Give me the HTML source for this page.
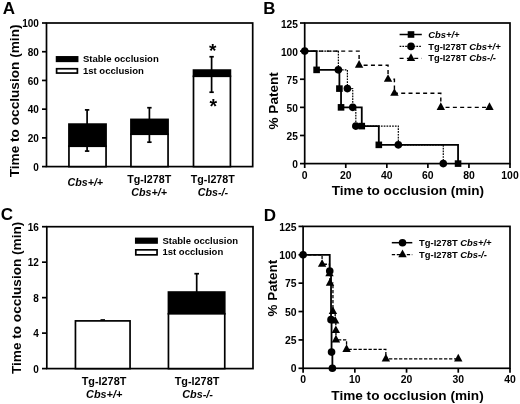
<!DOCTYPE html>
<html><head><meta charset="utf-8"><style>
html,body{margin:0;padding:0;background:#fff;}
body{width:520px;height:404px;overflow:hidden;}
svg{display:block;will-change:transform;}
text{font-family:"Liberation Sans", sans-serif;font-weight:bold;fill:#000;}
</style></head><body>
<svg width="520" height="404" viewBox="0 0 520 404">
<rect width="520" height="404" fill="#fff"/>
<text x="2.70" y="13.80" font-size="17" text-anchor="start">A</text>
<rect x="46.5" y="23" width="206.2" height="143.6" fill="none" stroke="#000" stroke-width="1.7"/>
<line x1="42.00" y1="166.60" x2="46.50" y2="166.60" stroke="#000" stroke-width="1.7"/>
<text x="38.90" y="170.70" font-size="10" text-anchor="end">0</text>
<line x1="42.00" y1="137.88" x2="46.50" y2="137.88" stroke="#000" stroke-width="1.7"/>
<text x="38.90" y="141.98" font-size="10" text-anchor="end">20</text>
<line x1="42.00" y1="109.16" x2="46.50" y2="109.16" stroke="#000" stroke-width="1.7"/>
<text x="38.90" y="113.26" font-size="10" text-anchor="end">40</text>
<line x1="42.00" y1="80.44" x2="46.50" y2="80.44" stroke="#000" stroke-width="1.7"/>
<text x="38.90" y="84.54" font-size="10" text-anchor="end">60</text>
<line x1="42.00" y1="51.72" x2="46.50" y2="51.72" stroke="#000" stroke-width="1.7"/>
<text x="38.90" y="55.82" font-size="10" text-anchor="end">80</text>
<line x1="42.00" y1="23.00" x2="46.50" y2="23.00" stroke="#000" stroke-width="1.7"/>
<text x="38.90" y="27.10" font-size="10" text-anchor="end">100</text>
<text x="18.60" y="177.30" font-size="13.65" text-anchor="start" transform="rotate(-90 18.60 177.30)">Time to occlusion (min)</text>
<rect x="68.95" y="124.12" width="37.10" height="22.11" fill="#000" stroke="#000" stroke-width="1.7"/>
<rect x="68.95" y="146.24" width="37.10" height="20.36" fill="#fff" stroke="#000" stroke-width="1.7"/>
<line x1="87.10" y1="109.88" x2="87.10" y2="151.09" stroke="#000" stroke-width="1.7"/>
<line x1="84.90" y1="109.88" x2="89.30" y2="109.88" stroke="#000" stroke-width="1.7"/>
<line x1="84.90" y1="151.09" x2="89.30" y2="151.09" stroke="#000" stroke-width="1.7"/>
<rect x="130.95" y="119.41" width="37.10" height="14.82" fill="#000" stroke="#000" stroke-width="1.7"/>
<rect x="130.95" y="134.23" width="37.10" height="32.37" fill="#fff" stroke="#000" stroke-width="1.7"/>
<line x1="149.40" y1="107.72" x2="149.40" y2="142.19" stroke="#000" stroke-width="1.7"/>
<line x1="147.20" y1="107.72" x2="151.60" y2="107.72" stroke="#000" stroke-width="1.7"/>
<line x1="147.20" y1="142.19" x2="151.60" y2="142.19" stroke="#000" stroke-width="1.7"/>
<rect x="193.50" y="70.10" width="36.90" height="6.17" fill="#000" stroke="#000" stroke-width="1.7"/>
<rect x="193.50" y="76.28" width="36.90" height="90.32" fill="#fff" stroke="#000" stroke-width="1.7"/>
<line x1="211.60" y1="56.75" x2="211.60" y2="92.22" stroke="#000" stroke-width="1.7"/>
<line x1="209.40" y1="56.75" x2="213.80" y2="56.75" stroke="#000" stroke-width="1.7"/>
<line x1="209.40" y1="92.22" x2="213.80" y2="92.22" stroke="#000" stroke-width="1.7"/>
<text x="212.60" y="57.40" font-size="19" text-anchor="middle">*</text>
<text x="213.20" y="112.90" font-size="19.5" text-anchor="middle">*</text>
<rect x="56.60" y="56.90" width="21.00" height="4.40" fill="#000" stroke="#000" stroke-width="1.7"/>
<rect x="56.60" y="68.75" width="20.80" height="4.30" fill="#fff" stroke="#000" stroke-width="1.7"/>
<text x="82.90" y="62.40" font-size="9.55" text-anchor="start">Stable occlusion</text>
<text x="82.90" y="73.80" font-size="9.55" text-anchor="start">1st occlusion</text>
<text x="85.30" y="186.40" font-size="10.7" text-anchor="middle" font-style="italic">Cbs+/+</text>
<text x="149.20" y="182.60" font-size="10.7" text-anchor="middle">Tg-I278T</text>
<text x="149.20" y="196.00" font-size="10.7" text-anchor="middle" font-style="italic">Cbs+/+</text>
<text x="212.80" y="182.60" font-size="10.7" text-anchor="middle">Tg-I278T</text>
<text x="213.00" y="196.00" font-size="10.7" text-anchor="middle" font-style="italic">Cbs-/-</text>
<text x="263.20" y="13.70" font-size="16.8" text-anchor="start">B</text>
<rect x="304.7" y="23" width="205.3" height="140.6" fill="none" stroke="#000" stroke-width="1.7"/>
<line x1="300.00" y1="163.60" x2="304.70" y2="163.60" stroke="#000" stroke-width="1.7"/>
<text x="297.90" y="168.10" font-size="10.2" text-anchor="end">0</text>
<line x1="300.00" y1="135.48" x2="304.70" y2="135.48" stroke="#000" stroke-width="1.7"/>
<text x="297.90" y="139.98" font-size="10.2" text-anchor="end">25</text>
<line x1="300.00" y1="107.36" x2="304.70" y2="107.36" stroke="#000" stroke-width="1.7"/>
<text x="297.90" y="111.86" font-size="10.2" text-anchor="end">50</text>
<line x1="300.00" y1="79.24" x2="304.70" y2="79.24" stroke="#000" stroke-width="1.7"/>
<text x="297.90" y="83.74" font-size="10.2" text-anchor="end">75</text>
<line x1="300.00" y1="51.12" x2="304.70" y2="51.12" stroke="#000" stroke-width="1.7"/>
<text x="297.90" y="55.62" font-size="10.2" text-anchor="end">100</text>
<line x1="300.00" y1="23.00" x2="304.70" y2="23.00" stroke="#000" stroke-width="1.7"/>
<text x="297.90" y="27.50" font-size="10.2" text-anchor="end">125</text>
<line x1="304.70" y1="163.60" x2="304.70" y2="168.00" stroke="#000" stroke-width="1.7"/>
<text x="304.70" y="179.30" font-size="10.4" text-anchor="middle">0</text>
<line x1="345.76" y1="163.60" x2="345.76" y2="168.00" stroke="#000" stroke-width="1.7"/>
<text x="345.76" y="179.30" font-size="10.4" text-anchor="middle">20</text>
<line x1="386.82" y1="163.60" x2="386.82" y2="168.00" stroke="#000" stroke-width="1.7"/>
<text x="386.82" y="179.30" font-size="10.4" text-anchor="middle">40</text>
<line x1="427.88" y1="163.60" x2="427.88" y2="168.00" stroke="#000" stroke-width="1.7"/>
<text x="427.88" y="179.30" font-size="10.4" text-anchor="middle">60</text>
<line x1="468.94" y1="163.60" x2="468.94" y2="168.00" stroke="#000" stroke-width="1.7"/>
<text x="468.94" y="179.30" font-size="10.4" text-anchor="middle">80</text>
<line x1="510.00" y1="163.60" x2="510.00" y2="168.00" stroke="#000" stroke-width="1.7"/>
<text x="510.00" y="179.30" font-size="10.4" text-anchor="middle">100</text>
<text x="407.90" y="194.60" font-size="13.6" text-anchor="middle">Time to occlusion (min)</text>
<text x="278.20" y="129.50" font-size="13.6" text-anchor="start" transform="rotate(-90 278.20 129.50)">% Patent</text>
<polyline points="304.70,51.12 338.37,51.12 338.37,69.87 347.40,69.87 347.40,88.61 352.74,88.61 352.74,107.36 355.82,107.36 355.82,126.11 398.32,126.11 398.32,144.85 443.28,144.85 443.28,163.60" fill="none" stroke="#000" stroke-width="1.2" stroke-dasharray="1.7 1.1" stroke-linejoin="miter"/>
<polyline points="304.70,51.12 359.10,51.12 359.10,65.18 388.05,65.18 388.05,79.24 394.42,79.24 394.42,93.30 440.81,93.30 440.81,107.36 489.47,107.36" fill="none" stroke="#000" stroke-width="1.4" stroke-dasharray="4 3.3" stroke-linejoin="miter"/>
<polyline points="304.70,51.12 316.61,51.12 316.61,69.87 339.40,69.87 339.40,88.61 341.04,88.61 341.04,107.36 361.77,107.36 361.77,126.11 378.81,126.11 378.81,144.85 458.06,144.85 458.06,163.60" fill="none" stroke="#000" stroke-width="1.8" stroke-linejoin="miter"/>
<rect x="313.31" y="66.57" width="6.6" height="6.6" fill="#000"/>
<rect x="336.10" y="85.31" width="6.6" height="6.6" fill="#000"/>
<rect x="337.74" y="104.06" width="6.6" height="6.6" fill="#000"/>
<rect x="358.47" y="122.81" width="6.6" height="6.6" fill="#000"/>
<rect x="375.51" y="141.55" width="6.6" height="6.6" fill="#000"/>
<rect x="454.76" y="160.30" width="6.6" height="6.6" fill="#000"/>
<circle cx="304.70" cy="51.12" r="3.8" fill="#000"/>
<circle cx="338.37" cy="69.87" r="3.8" fill="#000"/>
<circle cx="347.40" cy="88.61" r="3.8" fill="#000"/>
<circle cx="352.74" cy="107.36" r="3.8" fill="#000"/>
<circle cx="355.82" cy="126.11" r="3.8" fill="#000"/>
<circle cx="398.32" cy="144.85" r="3.8" fill="#000"/>
<circle cx="443.28" cy="163.60" r="3.8" fill="#000"/>
<polygon points="354.90,67.71 363.30,67.71 359.10,60.11" fill="#000"/>
<polygon points="383.85,81.77 392.25,81.77 388.05,74.17" fill="#000"/>
<polygon points="390.22,95.83 398.62,95.83 394.42,88.23" fill="#000"/>
<polygon points="436.61,109.89 445.01,109.89 440.81,102.29" fill="#000"/>
<polygon points="485.27,109.89 493.67,109.89 489.47,102.29" fill="#000"/>
<line x1="399.60" y1="34.50" x2="421.80" y2="34.50" stroke="#000" stroke-width="1.5"/>
<rect x="407.70" y="31.20" width="6.6" height="6.6" fill="#000"/>
<line x1="399.60" y1="46.40" x2="421.80" y2="46.40" stroke="#000" stroke-width="1.2" stroke-dasharray="1.7 1.1"/>
<circle cx="411.00" cy="46.40" r="3.8" fill="#000"/>
<line x1="399.60" y1="58.40" x2="421.80" y2="58.40" stroke="#000" stroke-width="1.4" stroke-dasharray="4 3.3"/>
<polygon points="406.80,60.93 415.20,60.93 411.00,53.33" fill="#000"/>
<text x="428.20" y="38.00" font-size="9.4" text-anchor="start" font-style="italic"><tspan font-style="italic">Cbs</tspan>+/+</text>
<text x="428.20" y="49.70" font-size="9.4" text-anchor="start">Tg-I278T <tspan font-style="italic">Cbs</tspan><tspan font-style="italic">+/+</tspan></text>
<text x="428.20" y="61.30" font-size="9.4" text-anchor="start">Tg-I278T <tspan font-style="italic">Cbs</tspan><tspan font-style="italic">-/-</tspan></text>
<text x="0.80" y="219.50" font-size="17" text-anchor="start">C</text>
<rect x="46.8" y="226.7" width="206.2" height="141.90000000000003" fill="none" stroke="#000" stroke-width="1.7"/>
<line x1="42.00" y1="368.60" x2="46.80" y2="368.60" stroke="#000" stroke-width="1.7"/>
<text x="38.90" y="372.80" font-size="10" text-anchor="end">0</text>
<line x1="42.00" y1="333.12" x2="46.80" y2="333.12" stroke="#000" stroke-width="1.7"/>
<text x="38.90" y="337.32" font-size="10" text-anchor="end">4</text>
<line x1="42.00" y1="297.65" x2="46.80" y2="297.65" stroke="#000" stroke-width="1.7"/>
<text x="38.90" y="301.85" font-size="10" text-anchor="end">8</text>
<line x1="42.00" y1="262.18" x2="46.80" y2="262.18" stroke="#000" stroke-width="1.7"/>
<text x="38.90" y="266.38" font-size="10" text-anchor="end">12</text>
<line x1="42.00" y1="226.70" x2="46.80" y2="226.70" stroke="#000" stroke-width="1.7"/>
<text x="38.90" y="230.90" font-size="10" text-anchor="end">16</text>
<text x="21.10" y="374.00" font-size="13.6" text-anchor="start" transform="rotate(-90 21.10 374.00)">Time to occlusion (min)</text>
<rect x="75.45" y="320.89" width="54.60" height="47.71" fill="#fff" stroke="#000" stroke-width="1.7"/>
<line x1="102.75" y1="320.89" x2="102.75" y2="320.00" stroke="#000" stroke-width="1.7"/>
<line x1="100.50" y1="320.00" x2="105.00" y2="320.00" stroke="#000" stroke-width="1.7"/>
<rect x="168.45" y="292.06" width="56.30" height="21.73" fill="#000" stroke="#000" stroke-width="1.7"/>
<rect x="168.45" y="313.79" width="56.30" height="54.81" fill="#fff" stroke="#000" stroke-width="1.7"/>
<line x1="196.70" y1="292.06" x2="196.70" y2="273.70" stroke="#000" stroke-width="1.7"/>
<line x1="194.40" y1="273.70" x2="199.00" y2="273.70" stroke="#000" stroke-width="1.7"/>
<rect x="135.80" y="238.45" width="21.25" height="4.50" fill="#000" stroke="#000" stroke-width="1.7"/>
<rect x="135.80" y="249.85" width="21.25" height="5.00" fill="#fff" stroke="#000" stroke-width="1.7"/>
<text x="162.50" y="243.50" font-size="9.5" text-anchor="start">Stable occlusion</text>
<text x="162.50" y="255.40" font-size="9.5" text-anchor="start">1st occlusion</text>
<text x="104.00" y="384.60" font-size="10.85" text-anchor="middle">Tg-I278T</text>
<text x="104.20" y="397.90" font-size="10.85" text-anchor="middle" font-style="italic">Cbs+/+</text>
<text x="197.00" y="384.60" font-size="10.85" text-anchor="middle">Tg-I278T</text>
<text x="197.60" y="397.90" font-size="10.85" text-anchor="middle" font-style="italic">Cbs-/-</text>
<text x="263.80" y="220.50" font-size="17" text-anchor="start">D</text>
<rect x="303.1" y="226.4" width="206.89999999999998" height="141.9" fill="none" stroke="#000" stroke-width="1.7"/>
<line x1="298.50" y1="368.30" x2="303.10" y2="368.30" stroke="#000" stroke-width="1.7"/>
<text x="296.60" y="372.40" font-size="10.4" text-anchor="end">0</text>
<line x1="298.50" y1="339.92" x2="303.10" y2="339.92" stroke="#000" stroke-width="1.7"/>
<text x="296.60" y="344.02" font-size="10.4" text-anchor="end">25</text>
<line x1="298.50" y1="311.54" x2="303.10" y2="311.54" stroke="#000" stroke-width="1.7"/>
<text x="296.60" y="315.64" font-size="10.4" text-anchor="end">50</text>
<line x1="298.50" y1="283.16" x2="303.10" y2="283.16" stroke="#000" stroke-width="1.7"/>
<text x="296.60" y="287.26" font-size="10.4" text-anchor="end">75</text>
<line x1="298.50" y1="254.78" x2="303.10" y2="254.78" stroke="#000" stroke-width="1.7"/>
<text x="296.60" y="258.88" font-size="10.4" text-anchor="end">100</text>
<line x1="298.50" y1="226.40" x2="303.10" y2="226.40" stroke="#000" stroke-width="1.7"/>
<text x="296.60" y="230.50" font-size="10.4" text-anchor="end">125</text>
<line x1="303.10" y1="368.30" x2="303.10" y2="372.70" stroke="#000" stroke-width="1.7"/>
<text x="303.10" y="382.80" font-size="10.4" text-anchor="middle">0</text>
<line x1="354.83" y1="368.30" x2="354.83" y2="372.70" stroke="#000" stroke-width="1.7"/>
<text x="354.83" y="382.80" font-size="10.4" text-anchor="middle">10</text>
<line x1="406.55" y1="368.30" x2="406.55" y2="372.70" stroke="#000" stroke-width="1.7"/>
<text x="406.55" y="382.80" font-size="10.4" text-anchor="middle">20</text>
<line x1="458.27" y1="368.30" x2="458.27" y2="372.70" stroke="#000" stroke-width="1.7"/>
<text x="458.27" y="382.80" font-size="10.4" text-anchor="middle">30</text>
<line x1="510.00" y1="368.30" x2="510.00" y2="372.70" stroke="#000" stroke-width="1.7"/>
<text x="510.00" y="382.80" font-size="10.4" text-anchor="middle">40</text>
<text x="407.50" y="399.60" font-size="13.6" text-anchor="middle">Time to occlusion (min)</text>
<text x="277.10" y="316.50" font-size="13.45" text-anchor="start" transform="rotate(-90 277.10 316.50)">% Patent</text>
<polyline points="303.10,254.78 322.08,254.78 322.08,264.24 329.48,264.24 329.48,273.70 330.00,273.70 330.00,283.16 332.95,283.16 332.95,311.54 335.17,311.54 335.17,321.00 335.84,321.00 335.84,330.46 335.95,330.46 335.95,339.92 346.55,339.92 346.55,349.38 385.86,349.38 385.86,358.84 458.27,358.84" fill="none" stroke="#000" stroke-width="1.3" stroke-dasharray="3.3 1.7" stroke-linejoin="miter"/>
<polyline points="303.10,254.78 329.74,254.78 329.74,271.00 331.03,271.00 331.03,319.65 331.55,319.65 331.55,352.08 332.38,352.08 332.38,368.30" fill="none" stroke="#000" stroke-width="1.8" stroke-linejoin="miter"/>
<circle cx="303.10" cy="254.78" r="3.8" fill="#000"/>
<circle cx="329.74" cy="271.00" r="3.8" fill="#000"/>
<circle cx="331.03" cy="319.65" r="3.8" fill="#000"/>
<circle cx="331.55" cy="352.08" r="3.8" fill="#000"/>
<circle cx="332.38" cy="368.30" r="3.8" fill="#000"/>
<polygon points="317.88,266.77 326.28,266.77 322.08,259.17" fill="#000"/>
<polygon points="325.28,276.24 333.68,276.24 329.48,268.64" fill="#000"/>
<polygon points="325.80,285.69 334.20,285.69 330.00,278.09" fill="#000"/>
<polygon points="328.75,314.07 337.15,314.07 332.95,306.47" fill="#000"/>
<polygon points="330.97,323.53 339.37,323.53 335.17,315.93" fill="#000"/>
<polygon points="331.64,333.00 340.04,333.00 335.84,325.40" fill="#000"/>
<polygon points="331.75,342.45 340.15,342.45 335.95,334.85" fill="#000"/>
<polygon points="342.35,351.91 350.75,351.91 346.55,344.31" fill="#000"/>
<polygon points="381.66,361.38 390.06,361.38 385.86,353.78" fill="#000"/>
<polygon points="454.07,361.38 462.47,361.38 458.27,353.78" fill="#000"/>
<line x1="391.80" y1="242.70" x2="412.30" y2="242.70" stroke="#000" stroke-width="1.5"/>
<circle cx="402.50" cy="242.70" r="3.8" fill="#000"/>
<line x1="391.80" y1="254.60" x2="412.30" y2="254.60" stroke="#000" stroke-width="1.4" stroke-dasharray="3.3 1.7"/>
<polygon points="398.30,257.13 406.70,257.13 402.50,249.53" fill="#000"/>
<text x="419.10" y="245.60" font-size="9.4" text-anchor="start">Tg-I278T <tspan font-style="italic">Cbs</tspan><tspan font-style="italic">+/+</tspan></text>
<text x="419.10" y="257.50" font-size="9.4" text-anchor="start">Tg-I278T <tspan font-style="italic">Cbs</tspan><tspan font-style="italic">-/-</tspan></text>
</svg>
</body></html>
